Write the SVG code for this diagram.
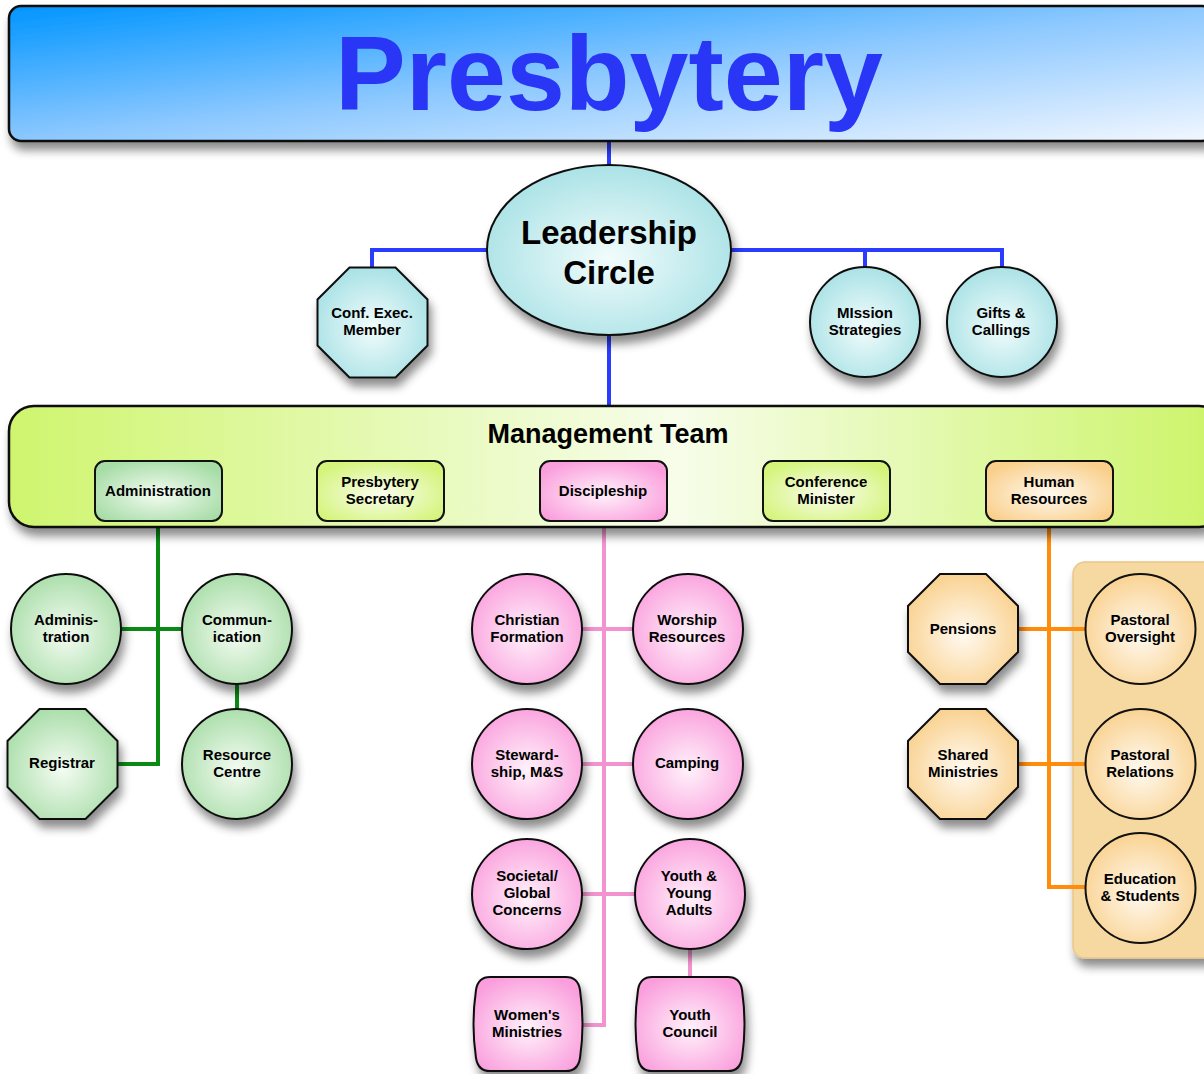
<svg xmlns="http://www.w3.org/2000/svg" width="1204" height="1074" viewBox="0 0 1204 1074">
<defs>
<style>
text{font-family:"Liberation Sans",Arial,Helvetica,sans-serif;font-weight:bold;fill:#000;text-anchor:middle}
.s{font-size:15px}
.sh{filter:url(#ds)}
.nd{stroke:#111;stroke-width:2}
.blue{stroke:#2a3cff;stroke-width:4;fill:none}
.green{stroke:#0a8a14;stroke-width:4;fill:none}
.pink{stroke:#f293cf;stroke-width:4;fill:none}
.orange{stroke:#ff8c0a;stroke-width:4;fill:none}
</style>
<filter id="ds" x="-20%" y="-20%" width="140%" height="150%">
<feDropShadow dx="3" dy="8" stdDeviation="5" flood-color="#000" flood-opacity="0.45"/>
</filter>
<linearGradient id="gTitle" x1="0" y1="0" x2="1" y2="1">
<stop offset="0" stop-color="#0095ff"/>
<stop offset="0.5" stop-color="#8cc8ff"/>
<stop offset="1" stop-color="#f2f7ff"/>
</linearGradient>
<linearGradient id="gMgmt" x1="0" y1="0" x2="1" y2="0">
<stop offset="0" stop-color="#cff56e"/>
<stop offset="0.55" stop-color="#f7fdea"/>
<stop offset="1" stop-color="#ccf468"/>
</linearGradient>
<radialGradient id="gCyan" cx="0.5" cy="0.55" r="0.6">
<stop offset="0" stop-color="#f2fcfc"/>
<stop offset="1" stop-color="#a4e0e4"/>
</radialGradient>
<radialGradient id="gGreen" cx="0.5" cy="0.55" r="0.6">
<stop offset="0" stop-color="#f4fcf2"/>
<stop offset="1" stop-color="#a6dca6"/>
</radialGradient>
<radialGradient id="gPink" cx="0.5" cy="0.55" r="0.6">
<stop offset="0" stop-color="#fff2fb"/>
<stop offset="1" stop-color="#fa9edc"/>
</radialGradient>
<radialGradient id="gOrange" cx="0.5" cy="0.55" r="0.6">
<stop offset="0" stop-color="#fffaf1"/>
<stop offset="1" stop-color="#f9cf8a"/>
</radialGradient>
<radialGradient id="gLime" cx="0.5" cy="0.55" r="0.6">
<stop offset="0" stop-color="#fafdee"/>
<stop offset="1" stop-color="#d4f47a"/>
</radialGradient>
</defs>

<rect width="1204" height="1074" fill="#fff"/>

<g id="hr-panel">
<rect class="sh" x="1073" y="562" width="145" height="396" rx="12" fill="#f6d9a0" stroke="#e9c68a" stroke-width="1.5"/>
</g>

<!-- connectors -->
<g id="connectors">
<path class="blue" d="M609 141 V166"/>
<path class="blue" d="M488 250 H372 V268"/>
<path class="blue" d="M731 250 H1002 V268 M865 250 V268"/>
<path class="blue" d="M609 334 V407"/>
<path class="green" d="M158 521 V764 H117"/>
<path class="green" d="M121 629 H183"/>
<path class="green" d="M237 683 V710"/>
<path class="pink" d="M604 521 V1025 H581"/>
<path class="pink" d="M581 629 H634 M581 764 H634 M581 894 H636"/>
<path class="pink" d="M690 948 V978"/>
<path class="orange" d="M1049 521 V887 H1086"/>
<path class="orange" d="M1017 629 H1086 M1017 764 H1086"/>
</g>

<!-- title -->
<g id="presbytery">
<rect class="sh" x="9" y="6" width="1205" height="135" rx="12" fill="url(#gTitle)" stroke="#111" stroke-width="2.5"/>
<text x="609" y="110" style="font-size:106px;fill:#2a36f5">Presbytery</text>
</g>

<g id="leadership-circle">
<ellipse class="nd sh" cx="609" cy="250" rx="122" ry="85" fill="url(#gCyan)"/>
<text x="609" y="244" style="font-size:33px">Leadership</text>
<text x="609" y="284" style="font-size:33px">Circle</text>
</g>

<g id="conf-exec-member">
<polygon class="nd sh" transform="translate(372.5,322.5)" points="-23,-55 23,-55 55,-23 55,23 23,55 -23,55 -55,23 -55,-23" fill="url(#gCyan)"/>
<text class="s" x="372" y="318">Conf. Exec.</text>
<text class="s" x="372" y="335">Member</text>
</g>

<g id="mission-strategies">
<circle class="nd sh" cx="865" cy="322" r="55" fill="url(#gCyan)"/>
<text class="s" x="865" y="318">MIssion</text>
<text class="s" x="865" y="335">Strategies</text>
</g>

<g id="gifts-callings">
<circle class="nd sh" cx="1002" cy="322" r="55" fill="url(#gCyan)"/>
<text class="s" x="1001" y="318">Gifts &amp;</text>
<text class="s" x="1001" y="335">Callings</text>
</g>

<!-- management team -->
<g id="management-team">
<rect class="sh" x="9" y="406" width="1215" height="121" rx="25" fill="url(#gMgmt)" stroke="#111" stroke-width="2.5"/>
<text x="608" y="443" style="font-size:27px">Management Team</text>
</g>

<g id="mt-administration">
<rect class="nd" x="95" y="461" width="127" height="60" rx="10" fill="url(#gGreen)"/>
<text class="s" x="158" y="496">Administration</text>
</g>
<g id="mt-presbytery-secretary">
<rect class="nd" x="317" y="461" width="127" height="60" rx="10" fill="url(#gLime)"/>
<text class="s" x="380" y="487">Presbytery</text>
<text class="s" x="380" y="504">Secretary</text>
</g>
<g id="mt-discipleship">
<rect class="nd" x="540" y="461" width="127" height="60" rx="10" fill="url(#gPink)"/>
<text class="s" x="603" y="496">Discipleship</text>
</g>
<g id="mt-conference-minister">
<rect class="nd" x="763" y="461" width="127" height="60" rx="10" fill="url(#gLime)"/>
<text class="s" x="826" y="487">Conference</text>
<text class="s" x="826" y="504">Minister</text>
</g>
<g id="mt-human-resources">
<rect class="nd" x="986" y="461" width="127" height="60" rx="10" fill="url(#gOrange)"/>
<text class="s" x="1049" y="487">Human</text>
<text class="s" x="1049" y="504">Resources</text>
</g>

<!-- administration cluster -->
<g id="adm-administration">
<circle class="nd sh" cx="66" cy="629" r="55" fill="url(#gGreen)"/>
<text class="s" x="66" y="625">Adminis-</text>
<text class="s" x="66" y="642">tration</text>
</g>
<g id="adm-communication">
<circle class="nd sh" cx="237" cy="629" r="55" fill="url(#gGreen)"/>
<text class="s" x="237" y="625">Commun-</text>
<text class="s" x="237" y="642">ication</text>
</g>
<g id="adm-registrar">
<polygon class="nd sh" transform="translate(62.5,764)" points="-23,-55 23,-55 55,-23 55,23 23,55 -23,55 -55,23 -55,-23" fill="url(#gGreen)"/>
<text class="s" x="62" y="768">Registrar</text>
</g>
<g id="adm-resource-centre">
<circle class="nd sh" cx="237" cy="764" r="55" fill="url(#gGreen)"/>
<text class="s" x="237" y="760">Resource</text>
<text class="s" x="237" y="777">Centre</text>
</g>

<!-- discipleship cluster -->
<g id="dis-christian-formation">
<circle class="nd sh" cx="527" cy="629" r="55" fill="url(#gPink)"/>
<text class="s" x="527" y="625">Christian</text>
<text class="s" x="527" y="642">Formation</text>
</g>
<g id="dis-worship-resources">
<circle class="nd sh" cx="688" cy="629" r="55" fill="url(#gPink)"/>
<text class="s" x="687" y="625">Worship</text>
<text class="s" x="687" y="642">Resources</text>
</g>
<g id="dis-stewardship">
<circle class="nd sh" cx="527" cy="764" r="55" fill="url(#gPink)"/>
<text class="s" x="527" y="760">Steward-</text>
<text class="s" x="527" y="777">ship, M&amp;S</text>
</g>
<g id="dis-camping">
<circle class="nd sh" cx="688" cy="764" r="55" fill="url(#gPink)"/>
<text class="s" x="687" y="768">Camping</text>
</g>
<g id="dis-societal">
<circle class="nd sh" cx="527" cy="894" r="55" fill="url(#gPink)"/>
<text class="s" x="527" y="881">Societal/</text>
<text class="s" x="527" y="898">Global</text>
<text class="s" x="527" y="915">Concerns</text>
</g>
<g id="dis-youth-young-adults">
<circle class="nd sh" cx="690" cy="894" r="55" fill="url(#gPink)"/>
<text class="s" x="689" y="881">Youth &amp;</text>
<text class="s" x="689" y="898">Young</text>
<text class="s" x="689" y="915">Adults</text>
</g>
<g id="dis-womens-ministries">
<path class="nd sh" d="M490 977 H566 Q578 977 580 990 Q585 1024 580 1058 Q578 1071 566 1071 H490 Q478 1071 476 1058 Q471 1024 476 990 Q478 977 490 977 Z" fill="url(#gPink)"/>
<text class="s" x="527" y="1020">Women's</text>
<text class="s" x="527" y="1037">Ministries</text>
</g>
<g id="dis-youth-council">
<path class="nd sh" d="M652 977 H728 Q740 977 742 990 Q747 1024 742 1058 Q740 1071 728 1071 H652 Q640 1071 638 1058 Q633 1024 638 990 Q640 977 652 977 Z" fill="url(#gPink)"/>
<text class="s" x="690" y="1020">Youth</text>
<text class="s" x="690" y="1037">Council</text>
</g>

<!-- human resources cluster -->
<g id="hr-pensions">
<polygon class="nd sh" transform="translate(963,629)" points="-23,-55 23,-55 55,-23 55,23 23,55 -23,55 -55,23 -55,-23" fill="url(#gOrange)"/>
<text class="s" x="963" y="634">Pensions</text>
</g>
<g id="hr-shared-ministries">
<polygon class="nd sh" transform="translate(963,764)" points="-23,-55 23,-55 55,-23 55,23 23,55 -23,55 -55,23 -55,-23" fill="url(#gOrange)"/>
<text class="s" x="963" y="760">Shared</text>
<text class="s" x="963" y="777">Ministries</text>
</g>
<g id="hr-pastoral-oversight">
<circle class="nd" cx="1140.5" cy="629" r="55" fill="url(#gOrange)"/>
<text class="s" x="1140" y="625">Pastoral</text>
<text class="s" x="1140" y="642">Oversight</text>
</g>
<g id="hr-pastoral-relations">
<circle class="nd" cx="1140.5" cy="764" r="55" fill="url(#gOrange)"/>
<text class="s" x="1140" y="760">Pastoral</text>
<text class="s" x="1140" y="777">Relations</text>
</g>
<g id="hr-education-students">
<circle class="nd" cx="1140.5" cy="888" r="55" fill="url(#gOrange)"/>
<text class="s" x="1140" y="884">Education</text>
<text class="s" x="1140" y="901">&amp; Students</text>
</g>
</svg>
